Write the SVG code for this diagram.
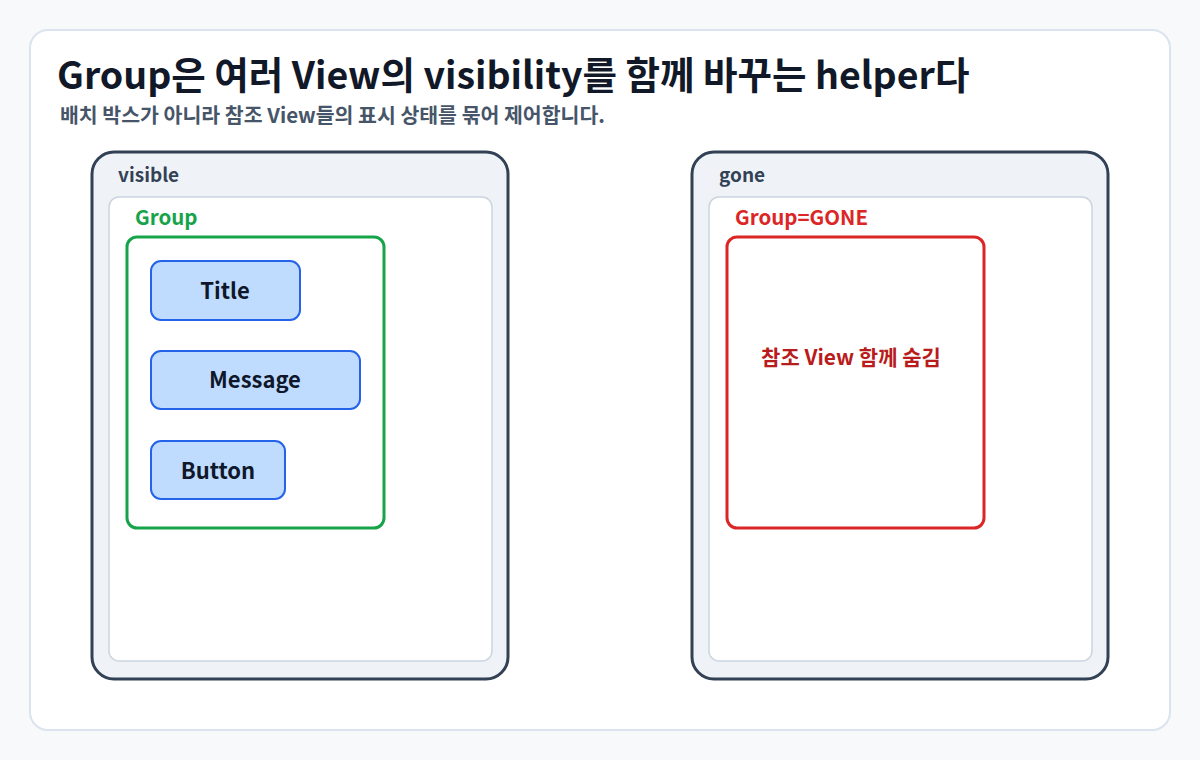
<svg xmlns="http://www.w3.org/2000/svg" width="1200" height="760" viewBox="0 0 1200 760">
<style>
text{font-family:"Noto Sans CJK KR","Noto Sans",sans-serif;font-weight:700}
.panel{fill:#eff3f8;stroke:#334155;stroke-width:3}
.inner{fill:#fff;stroke:#cbd5e1;stroke-width:1.5}
.lbl{font-size:19px;fill:#334155}
.view{fill:#bfdbfe;stroke:#2563eb;stroke-width:2}
.vt{font-size:22px;fill:#0f172a;text-anchor:middle}
</style>
<rect width="1200" height="760" fill="#f7f9fb"/>
<rect x="30" y="30" width="1140" height="700" rx="18" fill="#fff" stroke="#dbe3ee" stroke-width="2"/>
<text x="57" y="89" font-size="37.5" fill="#111827">Group은 여러 View의 visibility를 함께 바꾸는 helper다</text>
<text x="60" y="123" font-size="20.5" fill="#475569">배치 박스가 아니라 참조 View들의 표시 상태를 묶어 제어합니다.</text>
<g id="visible">
<rect class="panel" x="92" y="152" width="416" height="527" rx="22"/>
<text class="lbl" x="118" y="182">visible</text>
<rect class="inner" x="109" y="197" width="383" height="464" rx="10"/>
<text x="135" y="225" font-size="20.5" fill="#16a34a">Group</text>
<rect x="127" y="237" width="257" height="291" rx="10" fill="none" stroke="#16a34a" stroke-width="3"/>
</g>
<g id="title"><rect class="view" x="151" y="261" width="149" height="59" rx="10"/><text class="vt" x="225" y="299">Title</text></g>
<g id="message"><rect class="view" x="151" y="351" width="209" height="58" rx="10"/><text class="vt" x="255" y="388">Message</text></g>
<g id="button"><rect class="view" x="151" y="441" width="134" height="58" rx="10"/><text class="vt" x="218" y="479">Button</text></g>
<g id="gone">
<rect class="panel" x="692" y="152" width="416" height="527" rx="22"/>
<text class="lbl" x="719" y="182">gone</text>
<rect class="inner" x="709" y="197" width="383" height="464" rx="10"/>
<text x="735" y="225" font-size="20.5" fill="#dc2626">Group=GONE</text>
<rect x="727" y="237" width="257" height="291" rx="10" fill="none" stroke="#dc2626" stroke-width="3"/>
<text x="851" y="365" font-size="21" fill="#b91c1c" text-anchor="middle">참조 View 함께 숨김</text>
</g>
<g id="connectors"/>
</svg>
